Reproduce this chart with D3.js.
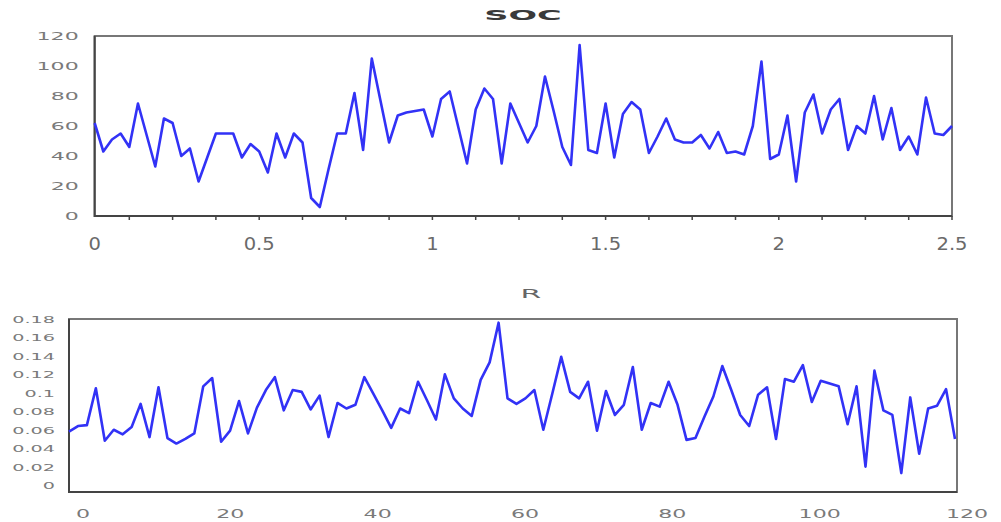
<!DOCTYPE html>
<html>
<head>
<meta charset="utf-8">
<script src="https://cdn.jsdelivr.net/npm/d3@7"></script>
<style>
  body { margin: 0; background: #fff; }
  svg text { font-family: "DejaVu Sans", sans-serif; }
</style>
</head>
<body>
<svg id="chart" width="1001" height="522"></svg>
<script>
// SOC series: 100 samples, x step 0.025
const socValues = [62, 43, 51, 55, 46, 75, 54, 33, 65, 62,
  40, 45, 23, 39, 55, 55, 55, 39, 48, 43,
  29, 55, 39, 55, 49, 12, 6, 31, 55, 55,
  82, 44, 105, 77, 49, 67, 69, 70, 71, 53,
  78, 83, 59, 35, 71, 85, 78, 35, 75, 62,
  49, 60, 93, 70, 46, 34, 114, 44, 42, 75,
  39, 68, 76, 71, 42, 53, 65, 51, 49, 49,
  54, 45, 56, 42, 43, 41, 60, 103, 38, 41,
  67, 23, 69, 81, 55, 71, 78, 44, 60, 55,
  80, 51, 72, 44, 53, 41, 79, 55, 54, 60]
const socStep = 0.025
const socYTicks = [0, 20, 40, 60, 80, 100, 120]
const socXTicks = [0, 0.5, 1, 1.5, 2, 2.5]

// R series: 100 samples
const rValues = [0.059, 0.065, 0.066, 0.106, 0.049, 0.061, 0.056, 0.064, 0.089, 0.053,
  0.107, 0.052, 0.046, 0.051, 0.057, 0.108, 0.117, 0.048, 0.060, 0.092,
  0.057, 0.085, 0.104, 0.118, 0.082, 0.104, 0.102, 0.083, 0.098, 0.053,
  0.090, 0.084, 0.088, 0.118, 0.100, 0.082, 0.063, 0.084, 0.079, 0.113,
  0.093, 0.072, 0.121, 0.095, 0.084, 0.076, 0.115, 0.134, 0.177, 0.095,
  0.089, 0.095, 0.104, 0.061, 0.100, 0.140, 0.102, 0.095, 0.113, 0.060,
  0.103, 0.077, 0.088, 0.129, 0.061, 0.090, 0.086, 0.113, 0.088, 0.050,
  0.052, 0.075, 0.097, 0.130, 0.104, 0.077, 0.065, 0.099, 0.107, 0.051,
  0.116, 0.113, 0.131, 0.091, 0.114, 0.111, 0.108, 0.067, 0.108, 0.021,
  0.125, 0.082, 0.077, 0.014, 0.096, 0.035, 0.084, 0.087, 0.105, 0.051]
const rYTicks = [0, 0.02, 0.04, 0.06, 0.08, 0.1, 0.12, 0.14, 0.16, 0.18]
const rXTicks = [0, 20, 40, 60, 80, 100, 120]

const lineColor = "#3232f6"
const svg = d3.select("#chart")

// text in the picture is stretched sideways
function wideText(g, x, y, txt, size, sx, anchor, fill, weight) {
    return g.append("text")
        .attr("transform", `translate(${x},${y}) scale(${sx},1)`)
        .attr("text-anchor", anchor)
        .attr("dominant-baseline", "central")
        .attr("font-size", size)
        .attr("font-weight", weight || "normal")
        .attr("fill", fill)
        .text(txt)
}

function drawBox(g, x0, x1, y0, y1) {
    g.append("rect")
        .attr("x", x0).attr("y", y1)
        .attr("width", x1 - x0).attr("height", y0 - y1)
        .attr("fill", "none")
        .attr("stroke", "#777")
        .attr("stroke-width", 2)
    g.append("path")
        .attr("d", `M${x0},${y1}V${y0}H${x1}`)
        .attr("fill", "none")
        .attr("stroke", "#444")
        .attr("stroke-width", 2)
}

// ---------- SOC ----------
{
    const g = svg.append("g")
    const x = d3.scaleLinear().domain([0, 2.5]).range([86, 952])
    const y = d3.scaleLinear().domain([0, 120]).range([216, 36])
    const pts = socValues.map((v, i) => ({ x: (i + 1) * socStep, y: v }))
    const left = x(pts[0].x), right = x(pts[pts.length - 1].x)

    drawBox(g, left, right, y(0), y(120))

    // minor ticks under the axis
    const minor = d3.range(0, 2.5001, 0.125).filter(d => x(d) >= left + 4)
    g.selectAll(".mt").data(minor).enter().append("line")
        .attr("x1", d => x(d)).attr("x2", d => x(d))
        .attr("y1", y(0)).attr("y2", y(0) + 4)
        .attr("stroke", "#444").attr("stroke-width", 1.5)

    socYTicks.forEach(t => wideText(g, left - 16, y(t), t, 10.5, 2.1, "end", "#7a7a7a"))
    socXTicks.forEach(t => wideText(g, Math.max(x(t), left), 244, t, 17, 1.15, "middle", "#6a6a6a"))
    wideText(g, 523, 15, "SOC", 14, 2.4, "middle", "#3a3a3a", "bold")

    const line = d3.line().x(d => x(d.x)).y(d => y(d.y))
    g.append("path").datum(pts)
        .attr("d", line)
        .attr("fill", "none")
        .attr("stroke", lineColor)
        .attr("stroke-width", 2.6)
        .attr("stroke-linejoin", "round")
}

// ---------- R ----------
{
    const g = svg.append("g")
    const xi = d3.scaleLinear().domain([0, rValues.length - 1]).range([69, 955])
    const xl = d3.scaleLinear().domain([0, 120]).range([83, 967])
    const y = d3.scaleLinear().domain([-0.0065, 0.181]).range([492, 319])

    drawBox(g, 69, 957, y(-0.0065), y(0.181))

    rYTicks.forEach(t => wideText(g, 55, y(t), t, 8, 2.4, "end", "#7a7a7a"))
    rXTicks.forEach(t => wideText(g, xl(t), 513, t, 13, 1.7, "middle", "#7a7a7a"))
    wideText(g, 531, 293, "R", 13, 2.3, "middle", "#666")

    const line = d3.line().x((d, i) => xi(i)).y(d => y(d))
    g.append("path").datum(rValues)
        .attr("d", line)
        .attr("fill", "none")
        .attr("stroke", lineColor)
        .attr("stroke-width", 2.6)
        .attr("stroke-linejoin", "round")
}
</script>
</body>
</html>
